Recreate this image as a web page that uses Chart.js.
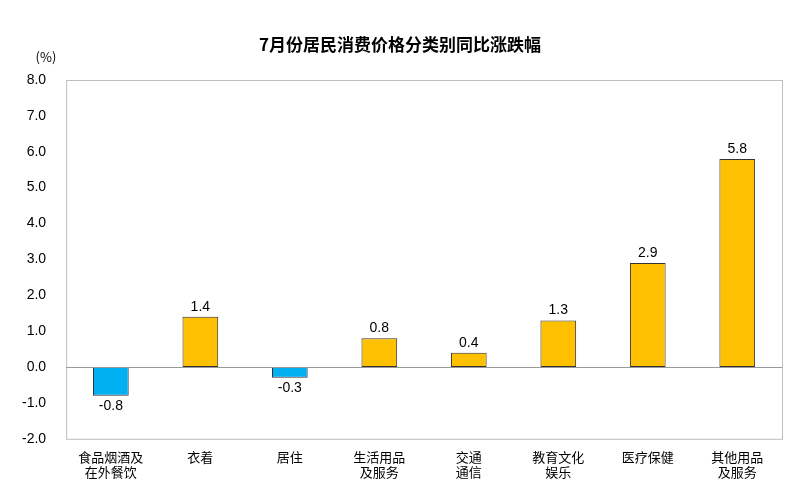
<!DOCTYPE html>
<html><head><meta charset="utf-8">
<script src="https://cdn.jsdelivr.net/npm/chart.js@4"></script>
<style>body{margin:0;background:#fff}</style>
</head><body><canvas id="c" width="800" height="495"></canvas>
<script>
const categories = [['食品烟酒及','在外餐饮'],'衣着','居住',['生活用品','及服务'],['交通','通信'],['教育文化','娱乐'],'医疗保健',['其他用品','及服务']];
const values = [-0.8, 1.4, -0.3, 0.8, 0.4, 1.3, 2.9, 5.8];
const yTicks = [-2, -1, 0, 1, 2, 3, 4, 5, 6, 7, 8];

const font = "'Noto Sans CJK SC', 'Liberation Sans', sans-serif";

const extras = {
    id: 'extras',
    afterDraw(chart) {
        const ctx = chart.ctx, a = chart.chartArea, y = chart.scales.y;
        ctx.save();
        ctx.strokeStyle = '#bfbfbf';
        ctx.lineWidth = 1;
        ctx.strokeRect(a.left + 0.5, a.top + 0.5, a.right - a.left, a.bottom - a.top);
        const z = Math.round(y.getPixelForValue(0)) + 0.5;
        ctx.strokeStyle = '#999';
        ctx.beginPath(); ctx.moveTo(a.left, z); ctx.lineTo(a.right, z); ctx.stroke();
        ctx.fillStyle = '#000';
        ctx.font = "bold 17px " + font;
        ctx.textAlign = 'center'; ctx.textBaseline = 'middle';
        ctx.fillText('7月份居民消费价格分类别同比涨跌幅', 400, 45);
        ctx.font = "13px " + font;
        ctx.fillText('(%)', 46, 57);
        ctx.font = "14px 'Liberation Sans', sans-serif";
        chart.getDatasetMeta(0).data.forEach((bar, i) => {
            const v = values[i];
            ctx.textBaseline = v >= 0 ? 'bottom' : 'top';
            ctx.fillText(v.toFixed(1), bar.x, v >= 0 ? bar.y - 3 : bar.y + 3);
        });
        ctx.restore();
    }
};

new Chart(document.getElementById('c'), {
    type: 'bar',
    data: {
        labels: categories,
        datasets: [{
            data: values,
            backgroundColor: values.map(v => v >= 0 ? '#FFC000' : '#00B0F0'),
            borderColor: '#333',
            borderWidth: 1,
            borderSkipped: false,
            barPercentage: 0.42,
            categoryPercentage: 0.95
        }]
    },
    options: {
        responsive: false,
        animation: false,
        devicePixelRatio: 1,
        layout: { padding: { top: 80, right: 18, left: 10, bottom: 5 } },
        plugins: { legend: { display: false }, tooltip: { enabled: false } },
        scales: {
            x: {
                grid: { display: false, drawTicks: false },
                border: { display: false },
                ticks: { color: '#000', font: { family: font, size: 13 }, padding: 10, maxRotation: 0, autoSkip: false }
            },
            y: {
                min: -2, max: 8,
                afterBuildTicks: s => { s.ticks = yTicks.map(v => ({ value: v })); },
                grid: { display: false },
                border: { display: false },
                ticks: { color: '#000', font: { family: "'Liberation Sans', sans-serif", size: 14 }, padding: 12, callback: v => v.toFixed(1) }
            }
        }
    },
    plugins: [extras]
});
</script></body></html>
